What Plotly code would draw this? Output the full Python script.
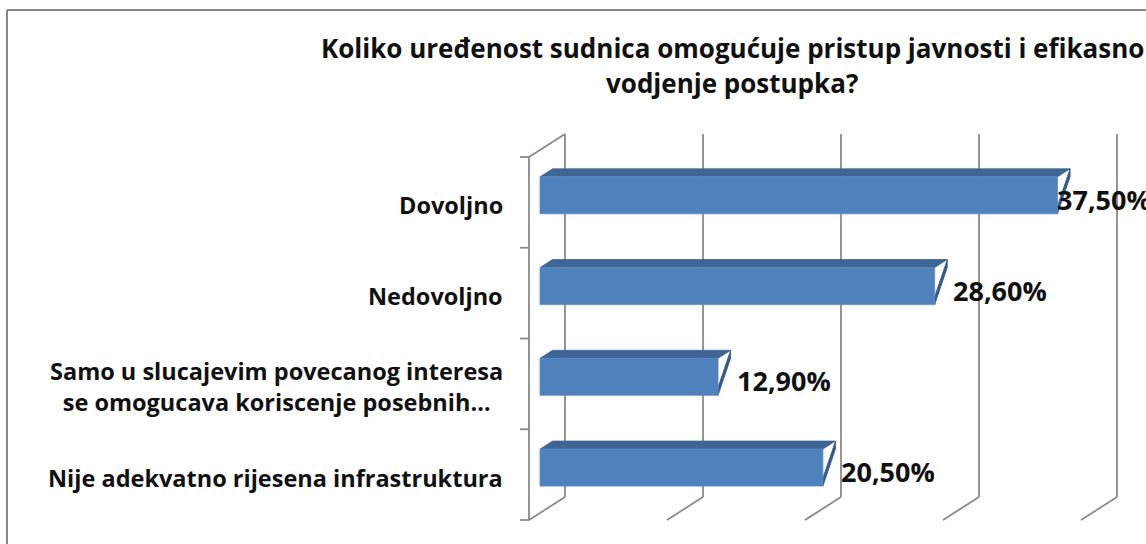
import plotly.graph_objects as go

# ---------------- data ----------------
categories = [
    "Dovoljno",
    "Nedovoljno",
    "Samo u slucajevim povecanog interesa<br>se omogucava koriscenje posebnih…",
    "Nije adekvatno rijesena infrastruktura",
]
values = [37.5, 28.6, 12.9, 20.5]
value_labels = ["37,50%", "28,60%", "12,90%", "20,50%"]
grid_values = [0, 10, 20, 30, 40]
title_lines = [
    "Koliko uređenost sudnica omogućuje pristup javnosti i efikasno",
    "vodjenje postupka?",
]

# ---------------- layout constants ----------------
W, H = 1146, 544
PX_PCT = 13.8          # pixels per percent on the x axis (front plane)
PX_BAND = 90.75        # pixels per category band
ORIGIN_X = 529         # pixel of x=0 at the front plane
ORIGIN_Y = 520         # pixel (from top) of y=0 at the front plane
DX = 36 / PX_PCT       # depth offset in x units
DY = 23 / PX_BAND      # depth offset in y units
F1, F2 = 0.306, 0.655  # bar front/back position within the depth
HALF = 18.5 / PX_BAND  # half bar height
LABEL_MAX_START = (1055 - ORIGIN_X) / PX_PCT

x_range = [-ORIGIN_X / PX_PCT, (W - ORIGIN_X) / PX_PCT]
y_range = [(ORIGIN_Y - H) / PX_BAND, ORIGIN_Y / PX_BAND]

FONT = "Open Sans"
GRID_COLOR = "#8a8a8a"
FRONT = "#4F81BD"
TOP = "#3E6594"
SIDE = "#33588A"

n = len(categories)
centers = [n - 0.5 - i for i in range(n)]

fig = go.Figure()


def line(xs, ys, color=GRID_COLOR, width=1.8):
    fig.add_trace(go.Scatter(x=xs, y=ys, mode="lines",
                             line=dict(color=color, width=width),
                             hoverinfo="skip", showlegend=False))


def poly(xs, ys, color, edge=None):
    fig.add_trace(go.Scatter(x=xs + [xs[0]], y=ys + [ys[0]], mode="lines",
                             fill="toself", fillcolor=color,
                             line=dict(color=edge or color, width=0.8),
                             hoverinfo="skip", showlegend=False))


# back wall gridlines
for g in grid_values:
    line([g + DX, g + DX], [DY, n + DY])
# floor diagonals
for g in grid_values:
    line([g, g + DX], [0, DY])
# left wall front edge + top edge
line([0, 0], [0, n])
line([0, DX], [n, n + DY])
# tick stubs
for k in range(n + 1):
    line([-9 / PX_PCT, 0], [k, k])

# bars
dd_x = (F2 - F1) * DX
dd_y = (F2 - F1) * DY
for v, c in zip(values, centers):
    x0 = F1 * DX
    x1 = v + F1 * DX
    y0 = c - HALF + F1 * DY
    y1 = c + HALF + F1 * DY
    poly([x0, x1, x1 + dd_x, x0 + dd_x], [y1, y1, y1 + dd_y, y1 + dd_y], TOP)
    poly([x1, x1 + dd_x, x1 + dd_x, x1], [y0 + dd_y, y1 + dd_y, y1, y0], SIDE)
    poly([x0, x1, x1, x0], [y0, y0, y1, y1], FRONT, "#5b8cc6")

annotations = []
# value labels
for v, c, t in zip(values, centers, value_labels):
    xs = min(v + F2 * DX + 4 / PX_PCT, LABEL_MAX_START)
    annotations.append(dict(x=xs, y=c + 3 / PX_BAND, xref="x", yref="y", text=t,
                            showarrow=False, xanchor="left", yanchor="middle",
                            font=dict(family=FONT, size=27, color="#111111", weight="bold")))
# category labels
for cat, c in zip(categories, centers):
    annotations.append(dict(x=-24 / PX_PCT, y=c - 3 / PX_BAND, xref="x", yref="y",
                            text=cat, showarrow=False, xanchor="right", yanchor="middle",
                            align="center",
                            font=dict(family=FONT, size=23.5, color="#111111", weight="bold")))
# title
for j, t in enumerate(title_lines):
    annotations.append(dict(x=732 / W, y=1 - (48 + 35 * j) / H, xref="paper", yref="paper",
                            text=t, showarrow=False, xanchor="center", yanchor="middle",
                            font=dict(family=FONT, size=26, color="#111111", weight="bold")))

shapes = [
    dict(type="line", xref="paper", yref="paper", x0=7 / W, x1=7 / W, y0=-0.05, y1=1 - 10 / H,
         line=dict(color="#888888", width=2)),
    dict(type="line", xref="paper", yref="paper", x0=7 / W, x1=1.05, y0=1 - 10 / H, y1=1 - 10 / H,
         line=dict(color="#888888", width=2)),
]

fig.update_layout(
    width=W, height=H,
    margin=dict(l=0, r=0, t=0, b=0, pad=0),
    paper_bgcolor="white", plot_bgcolor="white",
    xaxis=dict(range=x_range, visible=False, fixedrange=True),
    yaxis=dict(range=y_range, visible=False, fixedrange=True),
    annotations=annotations, shapes=shapes,
    showlegend=False,
)

fig.write_html("out.html", config={"displayModeBar": False},
               post_script="document.body.style.margin='0';document.body.style.overflow='hidden';")
